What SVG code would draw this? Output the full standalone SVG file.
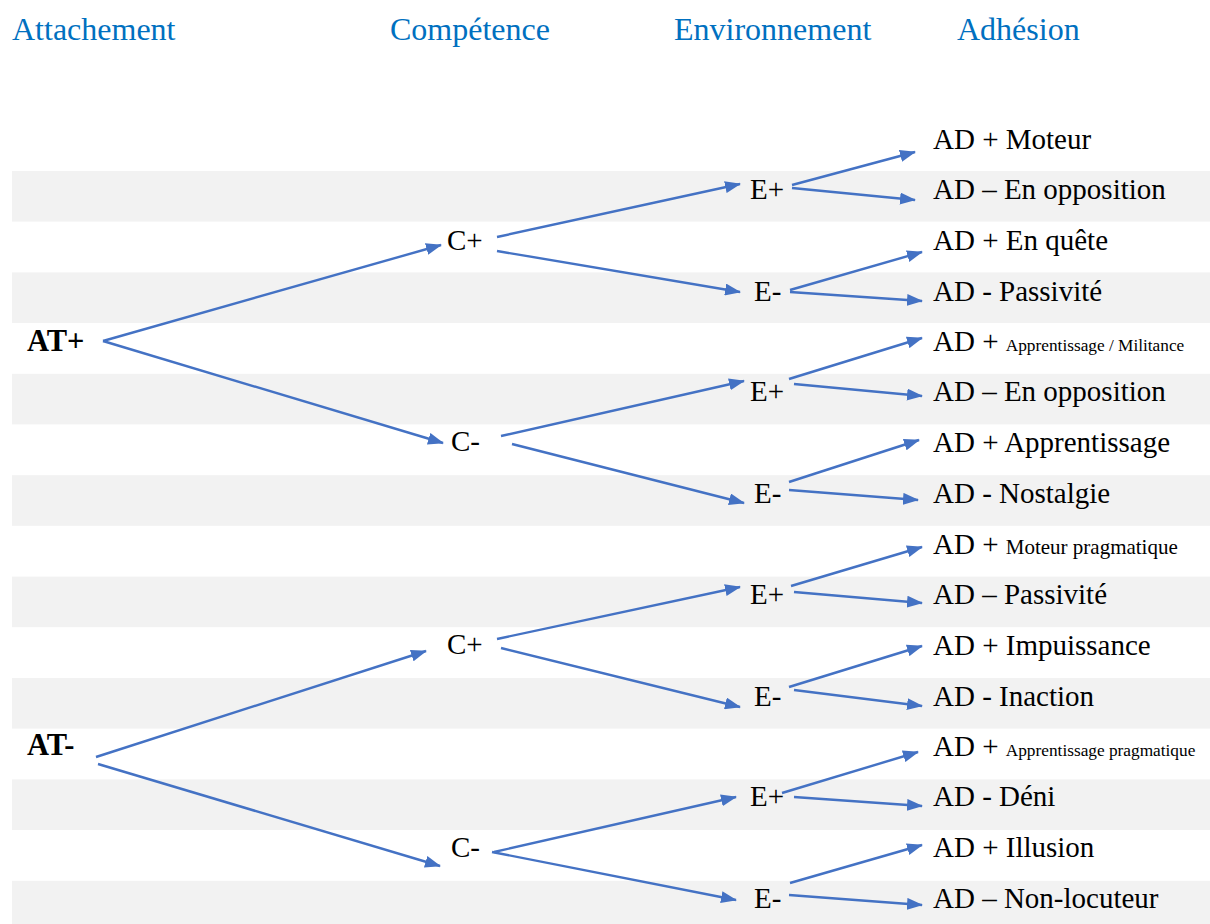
<svg xmlns="http://www.w3.org/2000/svg" width="1210" height="924" viewBox="0 0 1210 924">
<defs>
<style>
.band{fill:#f2f2f2}
text{font-family:'Liberation Serif','Times New Roman',serif}
.hdr{font-size:32px;fill:#0070c0}
.t{font-size:29px;fill:#000}
.b{font-weight:bold;font-size:30.5px}
.s{font-size:17.3px}
.m{font-size:21px}
.c line{stroke:#4472c4;stroke-width:2.4;fill:none;marker-end:url(#ah)}
</style>
<marker id="ah" viewBox="0 0 16 12" refX="15" refY="6" markerWidth="16" markerHeight="12" markerUnits="userSpaceOnUse" orient="auto">
<path d="M0,0 L16,6 L0,12 z" fill="#4472c4"/>
</marker>
</defs>
<rect width="1210" height="924" fill="#fff"/>
<g id="bands">
<rect class="band" x="12" y="171" width="1198" height="50.6"/>
<rect class="band" x="12" y="272.4" width="1198" height="50.6"/>
<rect class="band" x="12" y="373.8" width="1198" height="50.6"/>
<rect class="band" x="12" y="475.2" width="1198" height="50.6"/>
<rect class="band" x="12" y="576.6" width="1198" height="50.6"/>
<rect class="band" x="12" y="678" width="1198" height="50.6"/>
<rect class="band" x="12" y="779.4" width="1198" height="50.6"/>
<rect class="band" x="12" y="880.8" width="1198" height="43.2"/>
</g>
<g id="headers">
<text class="hdr" x="12" y="40">Attachement</text>
<text class="hdr" x="390" y="40">Compétence</text>
<text class="hdr" x="674" y="40">Environnement</text>
<text class="hdr" x="957" y="40">Adhésion</text>
</g>
<g class="c" id="connectors">
<line x1="103" y1="341" x2="441" y2="245"/>
<line x1="103" y1="341" x2="443" y2="443"/>
<line x1="96" y1="757" x2="426" y2="651"/>
<line x1="98" y1="764" x2="440" y2="866"/>
<line x1="497" y1="237" x2="740" y2="184"/>
<line x1="497" y1="251" x2="740" y2="292"/>
<line x1="501" y1="436" x2="744" y2="381"/>
<line x1="512" y1="444" x2="744" y2="503"/>
<line x1="497" y1="639" x2="740" y2="587"/>
<line x1="501" y1="648" x2="740" y2="707"/>
<line x1="494" y1="852" x2="736" y2="797"/>
<line x1="492" y1="852" x2="736" y2="900"/>
<line x1="792" y1="185" x2="915" y2="152"/>
<line x1="792" y1="188" x2="915" y2="200"/>
<line x1="790" y1="290" x2="922" y2="252"/>
<line x1="790" y1="292" x2="922" y2="301"/>
<line x1="789" y1="379" x2="922" y2="338"/>
<line x1="794" y1="384" x2="922" y2="396"/>
<line x1="789" y1="482" x2="919" y2="440"/>
<line x1="789" y1="490" x2="918" y2="500"/>
<line x1="791" y1="586" x2="922" y2="547"/>
<line x1="794" y1="592" x2="922" y2="603"/>
<line x1="789" y1="687" x2="922" y2="646"/>
<line x1="794" y1="690" x2="922" y2="706"/>
<line x1="782" y1="793" x2="918" y2="752"/>
<line x1="794" y1="797" x2="922" y2="806"/>
<line x1="790" y1="883" x2="922" y2="845"/>
<line x1="789" y1="895" x2="922" y2="905"/>
</g>
<g id="n-atp"><text class="t b" x="27" y="351">AT+</text></g>
<g id="n-atm"><text class="t b" x="27" y="755">AT-</text></g>
<g id="n-cp1"><text class="t" x="447" y="250">C+</text></g>
<g id="n-cm1"><text class="t" x="451" y="451">C-</text></g>
<g id="n-cp2"><text class="t" x="447" y="654">C+</text></g>
<g id="n-cm2"><text class="t" x="451" y="857">C-</text></g>
<g id="n-e1"><text class="t" x="750" y="199">E+</text></g>
<g id="n-e2"><text class="t" x="754" y="301">E-</text></g>
<g id="n-e3"><text class="t" x="750" y="401">E+</text></g>
<g id="n-e4"><text class="t" x="754" y="503">E-</text></g>
<g id="n-e5"><text class="t" x="750" y="604">E+</text></g>
<g id="n-e6"><text class="t" x="754" y="706">E-</text></g>
<g id="n-e7"><text class="t" x="750" y="806">E+</text></g>
<g id="n-e8"><text class="t" x="754" y="908">E-</text></g>
<g id="n-ad1"><text class="t" x="933" y="149">AD + Moteur</text></g>
<g id="n-ad2"><text class="t" x="933" y="199">AD – En opposition</text></g>
<g id="n-ad3"><text class="t" x="933" y="250">AD + En quête</text></g>
<g id="n-ad4"><text class="t" x="933" y="301">AD - Passivité</text></g>
<g id="n-ad5"><text class="t" x="933" y="351">AD + <tspan class="s">Apprentissage / Militance</tspan></text></g>
<g id="n-ad6"><text class="t" x="933" y="401">AD – En opposition</text></g>
<g id="n-ad7"><text class="t" x="933" y="452">AD + Apprentissage</text></g>
<g id="n-ad8"><text class="t" x="933" y="503">AD - Nostalgie</text></g>
<g id="n-ad9"><text class="t" x="933" y="554">AD + <tspan class="m">Moteur pragmatique</tspan></text></g>
<g id="n-ad10"><text class="t" x="933" y="604">AD – Passivité</text></g>
<g id="n-ad11"><text class="t" x="933" y="655">AD + Impuissance</text></g>
<g id="n-ad12"><text class="t" x="933" y="706">AD - Inaction</text></g>
<g id="n-ad13"><text class="t" x="933" y="756">AD + <tspan class="s">Apprentissage pragmatique</tspan></text></g>
<g id="n-ad14"><text class="t" x="933" y="806">AD - Déni</text></g>
<g id="n-ad15"><text class="t" x="933" y="857">AD + Illusion</text></g>
<g id="n-ad16"><text class="t" x="933" y="908">AD – Non-locuteur</text></g>
</svg>
